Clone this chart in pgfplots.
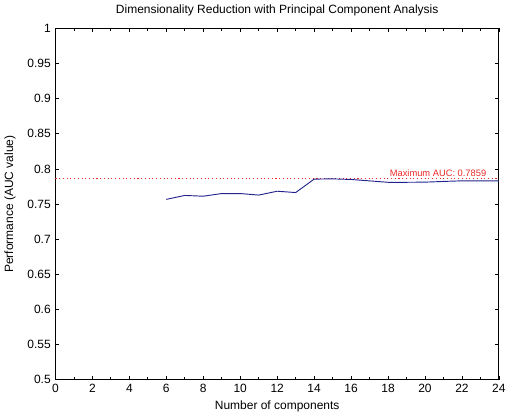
\documentclass[border=0pt]{standalone}
\usepackage{pgfplots}
\pgfplotsset{compat=1.18}
\usepackage{fontspec}
\setmainfont{Liberation Sans}
\definecolor{pcablue}{RGB}{35,35,140}
\definecolor{maxred}{RGB}{235,40,40}
\begin{document}
\begin{tikzpicture}
\begin{axis}[
    scale only axis,
    width=333pt, height=264pt,
    xmin=0, xmax=24, ymin=0.5, ymax=1,
    xtick={0,2,...,24},
    minor xtick={1,3,...,23},
    ytick={0.5,0.55,...,1.01},
    tick align=inside,
    major tick length=3pt,
    minor tick length=2pt,
    every tick/.style={black, line width=0.6pt},
    axis line style={line width=0.8pt},
    /pgf/number format/assume math mode=true,
    yticklabel style={/pgf/number format/fixed, /pgf/number format/precision=2},
    tick label style={font=\fontsize{9}{10}\selectfont},
    label style={font=\fontsize{9}{10}\selectfont},
    title style={font=\fontsize{9}{10}\selectfont},
    title={Dimensionality Reduction with Principal Component Analysis},
    xlabel={Number of components},
    ylabel={Performance (AUC value)},
    xlabel style={yshift=1pt},
    ylabel style={yshift=2pt},
    clip=false,
]
\addplot[maxred, dotted, line width=0.8pt] coordinates {(0,0.7859) (24,0.7859)};
\addplot[pcablue, line width=0.7pt, mark=none] coordinates {
(6,0.7567) (7,0.7623) (8,0.7612) (9,0.7650) (10,0.7650) (11,0.7628)
(12,0.7683) (13,0.7664) (14,0.7855) (15,0.7859) (16,0.7850) (17,0.7830)
(18,0.7810) (19,0.7810) (20,0.7812) (21,0.7822) (22,0.7831) (23,0.7831) (24,0.7831)};
\node[maxred, anchor=south east, inner sep=1pt, font=\fontsize{7}{8}\selectfont] at (axis cs:23.4,0.7872) {Maximum AUC: 0.7859};
\end{axis}
\end{tikzpicture}
\end{document}
